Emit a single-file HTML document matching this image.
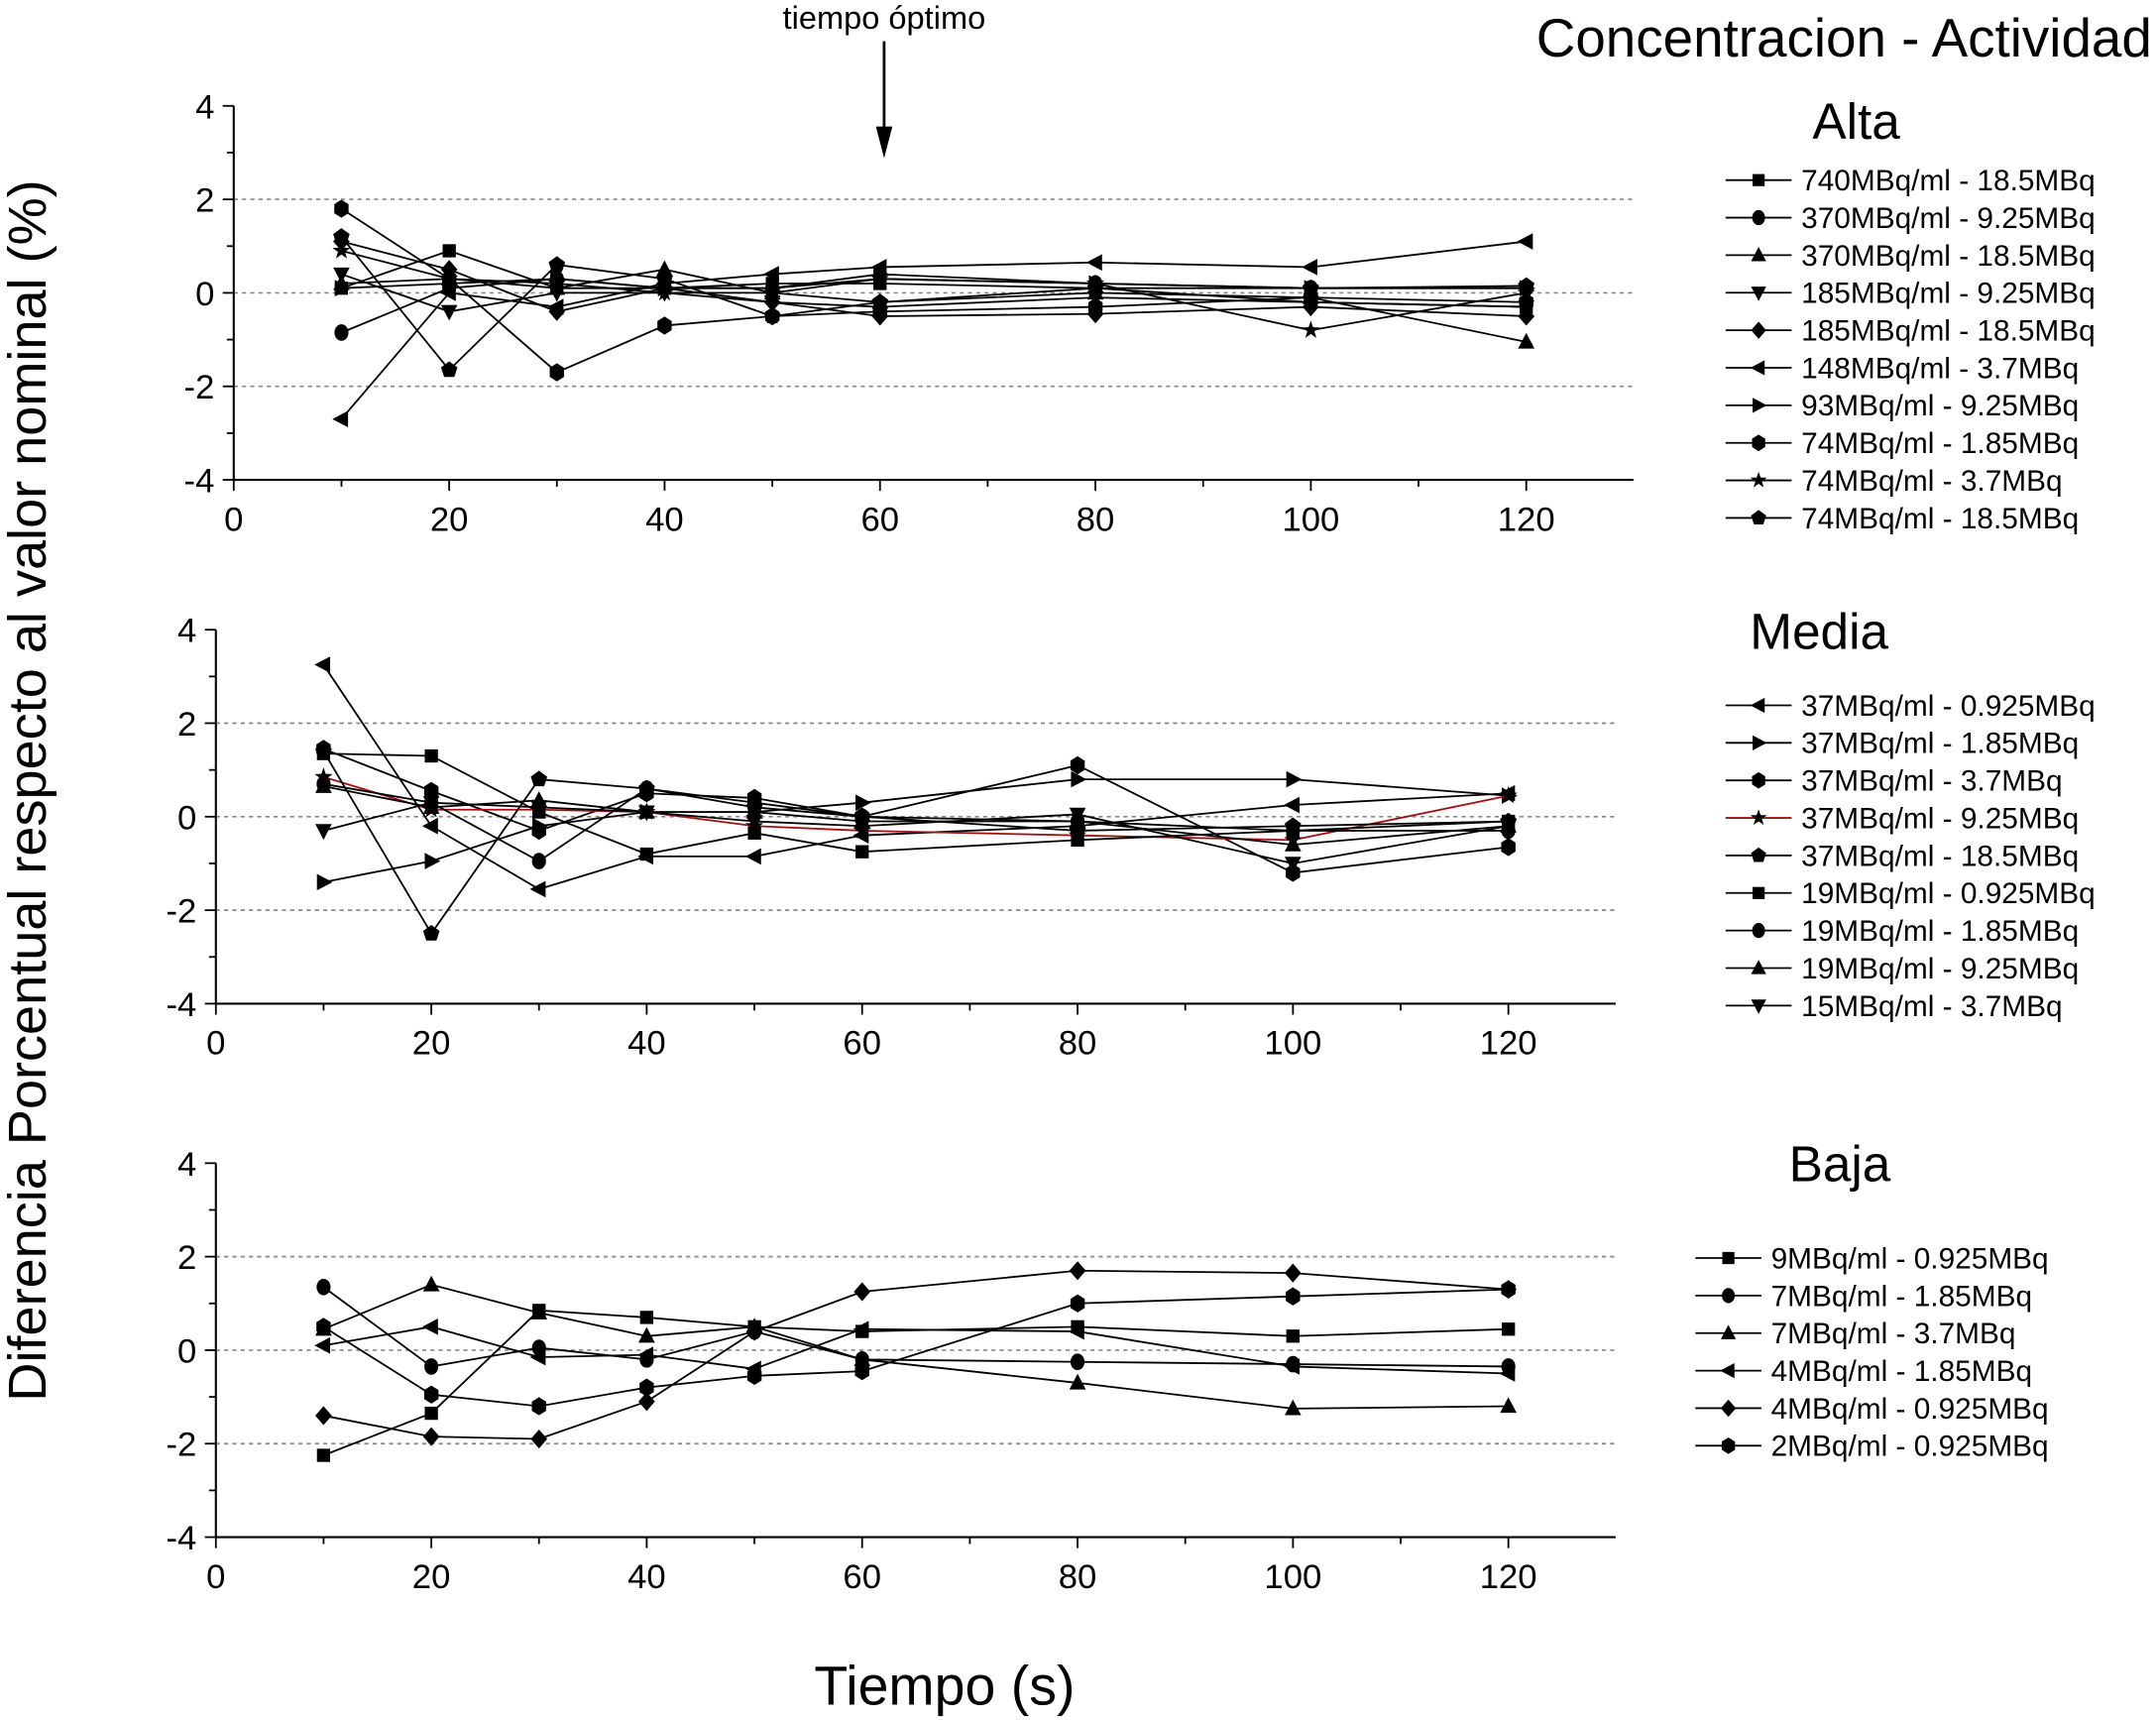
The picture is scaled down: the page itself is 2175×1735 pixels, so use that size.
<!DOCTYPE html>
<html><head><meta charset="utf-8"><style>
html,body{margin:0;padding:0;background:#fff}
svg{display:block}
text{font-family:"Liberation Sans",sans-serif;fill:#000}
</style></head><body>
<svg id="chart" width="2175" height="1735" viewBox="0 0 1568 1251" preserveAspectRatio="none" xmlns="http://www.w3.org/2000/svg">
<text x="1565" y="41" font-size="39.5" text-anchor="end">Concentracion - Actividad</text>
<text x="643" y="21" font-size="23.5" text-anchor="middle">tiempo óptimo</text>
<line x1="643" y1="30" x2="643" y2="100" stroke="#000" stroke-width="2"/>
<polygon points="637,92 649,92 643,115" fill="#000"/>
<text transform="translate(33,575) rotate(-90)" font-size="39" text-anchor="middle">Diferencia Porcentual respecto al valor nominal (%)</text>
<text x="687" y="1240" font-size="40" text-anchor="middle">Tiempo (s)</text>
<g id="plots"></g>
</svg>
<script>
const times = [10,20,30,40,50,60,80,100,120];
const yTicks = [-4,-2,0,2,4];
const xTicks = [0,20,40,60,80,100,120];

const altaNames = ["740MBq/ml - 18.5MBq","370MBq/ml - 9.25MBq","370MBq/ml - 18.5MBq","185MBq/ml - 9.25MBq","185MBq/ml - 18.5MBq","148MBq/ml - 3.7MBq","93MBq/ml - 9.25MBq","74MBq/ml - 1.85MBq","74MBq/ml - 3.7MBq","74MBq/ml - 18.5MBq"];
const altaMarkers = ["square","circle","tri","tridown","diamond","trileft","triright","hexagon","star","pentagon"];
const altaValues = [
 [0.1,0.9,0.1,0.1,0.2,0.2,0.1,-0.2,-0.3],
 [-0.85,0.1,0.3,0.1,0.1,0.3,0.2,0.1,0.1],
 [0.2,0.3,0.1,0.5,0,-0.2,0,-0.1,-1.05],
 [0.4,-0.4,0,0,-0.2,-0.3,-0.1,-0.2,-0.3],
 [1.1,0.5,-0.4,0.1,-0.2,-0.5,-0.45,-0.3,-0.5],
 [-2.7,0,-0.3,0.2,0.4,0.55,0.65,0.55,1.1],
 [0.1,0.2,0.3,0.1,0.1,0.4,0.2,0.1,0.1],
 [1.8,0.3,-1.7,-0.7,-0.5,-0.4,-0.3,-0.1,-0.2],
 [0.9,0.3,0.2,0,0,0.3,0.2,-0.8,0],
 [1.2,-1.65,0.6,0.3,-0.5,-0.2,0.1,0.1,0.15]
];
const mediaNames = ["37MBq/ml - 0.925MBq","37MBq/ml - 1.85MBq","37MBq/ml - 3.7MBq","37MBq/ml - 9.25MBq","37MBq/ml - 18.5MBq","19MBq/ml - 0.925MBq","19MBq/ml - 1.85MBq","19MBq/ml - 9.25MBq","15MBq/ml - 3.7MBq"];
const mediaMarkers = ["trileft","triright","hexagon","star","pentagon","square","circle","tri","tridown"];
const mediaColors = ["#000","#000","#000","#a01010","#000","#000","#000","#000","#000"];
const mediaValues = [
 [3.25,-0.2,-1.55,-0.85,-0.85,-0.4,-0.2,0.25,0.5],
 [-1.4,-0.95,-0.2,0.1,0.1,0.3,0.8,0.8,0.45],
 [1.45,0.55,-0.3,0.5,0.4,0,1.1,-1.2,-0.65],
 [0.85,0.15,0.15,0.1,-0.2,-0.3,-0.4,-0.5,0.45],
 [1.4,-2.5,0.8,0.6,0.2,0,-0.3,-0.2,-0.1],
 [1.35,1.3,0.1,-0.8,-0.35,-0.75,-0.5,-0.3,-0.1],
 [0.7,0.3,-0.95,0.6,0.3,0,-0.1,-0.3,-0.3],
 [0.65,0.2,0.35,0.1,0.1,-0.1,-0.1,-0.6,-0.2],
 [-0.3,0.3,0.2,0.1,-0.1,-0.2,0.05,-1.0,-0.2]
];
const bajaNames = ["9MBq/ml - 0.925MBq","7MBq/ml - 1.85MBq","7MBq/ml - 3.7MBq","4MBq/ml - 1.85MBq","4MBq/ml - 0.925MBq","2MBq/ml - 0.925MBq"];
const bajaMarkers = ["square","circle","tri","trileft","diamond","hexagon"];
const bajaValues = [
 [-2.25,-1.35,0.85,0.7,0.5,0.4,0.5,0.3,0.45],
 [1.35,-0.35,0.05,-0.2,0.4,-0.2,-0.25,-0.3,-0.35],
 [0.45,1.4,0.8,0.3,0.5,-0.2,-0.7,-1.25,-1.2],
 [0.1,0.5,-0.15,-0.1,-0.4,0.45,0.4,-0.35,-0.5],
 [-1.4,-1.85,-1.9,-1.1,0.4,1.25,1.7,1.65,1.3],
 [0.5,-0.95,-1.2,-0.8,-0.55,-0.45,1.0,1.15,1.3]
];

const NS="http://www.w3.org/2000/svg";
const root=document.getElementById('plots');
function mk(tag,attrs,parent){const e=document.createElementNS(NS,tag);for(const k in attrs)e.setAttribute(k,attrs[k]);parent.appendChild(e);return e;}

function marker(type,cx,cy,s,parent){
  let pts=null;
  if(type==="square") pts=[[-1,-1],[1,-1],[1,1],[-1,1]].map(p=>[p[0]*0.8,p[1]*0.8]);
  else if(type==="tri") pts=[[0,-1.1],[1,0.8],[-1,0.8]];
  else if(type==="tridown") pts=[[0,1.1],[1,-0.8],[-1,-0.8]];
  else if(type==="trileft") pts=[[-1.1,0],[0.8,-1],[0.8,1]];
  else if(type==="triright") pts=[[1.1,0],[-0.8,-1],[-0.8,1]];
  else if(type==="diamond") pts=[[0,-1.15],[1,0],[0,1.15],[-1,0]];
  else if(type==="hexagon"){pts=[];for(let i=0;i<6;i++){const a=Math.PI/3*i+Math.PI/6;pts.push([Math.cos(a),Math.sin(a)*1.1]);}}
  else if(type==="pentagon"){pts=[];for(let i=0;i<5;i++){const a=-Math.PI/2+2*Math.PI/5*i;pts.push([Math.cos(a)*1.05,Math.sin(a)*1.05]);}}
  else if(type==="star"){pts=[];for(let i=0;i<10;i++){const a=-Math.PI/2+Math.PI/5*i;const r=i%2?0.45:1.15;pts.push([Math.cos(a)*r,Math.sin(a)*r]);}}
  let el;
  if(type==="circle") el=mk('ellipse',{cx:cx,cy:cy,rx:s*0.85,ry:s,fill:'#000'},parent);
  else el=mk('polygon',{points:pts.map(p=>(cx+p[0]*s).toFixed(1)+','+(cy+p[1]*s).toFixed(1)).join(' '),fill:'#000'},parent);
  return el;
}

function panel(cfg){
  const g=mk('g',{},root);
  
  
  const xs=v=>cfg.x0+(v)*(cfg.x120-cfg.x0)/120;
  const ys=v=>cfg.y0-v*(cfg.y0-cfg.y4)/4;
  [-2,0,2].forEach(v=>{const l=mk('line',{x1:cfg.x0,x2:cfg.xEnd,y1:ys(v),y2:ys(v),stroke:'#888','stroke-width':1.2,'stroke-dasharray':'3,3'},g);
    });
  const ya=mk('line',{x1:cfg.x0,x2:cfg.x0,y1:ys(4),y2:ys(-4),stroke:'#000','stroke-width':1.5},g);
  
  const xa=mk('line',{x1:cfg.x0,x2:cfg.xEnd,y1:ys(-4),y2:ys(-4),stroke:'#000','stroke-width':1.5},g);
  
  for(let v=-4;v<=4;v++){mk('line',{x1:cfg.x0-(v%2===0?8:5),x2:cfg.x0,y1:ys(v),y2:ys(v),stroke:'#000','stroke-width':1.3},g);}
  yTicks.forEach(v=>{const t=mk('text',{x:cfg.x0-14,y:ys(v)+9,'font-size':25,'text-anchor':'end'},g);t.textContent=v;
    });
  for(let v=0;v<=130;v+=10){const x=xs(v);if(x>cfg.xEnd)break;mk('line',{x1:x,x2:x,y1:ys(-4),y2:ys(-4)+(v%20===0?8:5),stroke:'#000','stroke-width':1.3},g);}
  xTicks.forEach(v=>{const t=mk('text',{x:xs(v),y:ys(-4)+37,'font-size':25,'text-anchor':'middle'},g);t.textContent=v;
    });
  const tt=mk('text',{x:cfg.tx,y:cfg.ty,'font-size':37,'text-anchor':'middle'},g);tt.textContent=cfg.title;
  
  cfg.values.forEach((vals,i)=>{
    const col=cfg.colors?cfg.colors[i]:'#000';
    const s=mk('g',{},g);
    
    
    mk('polyline',{points:vals.map((v,j)=>xs(times[j]).toFixed(1)+','+ys(v).toFixed(1)).join(' '),fill:'none',stroke:col,'stroke-width':1.3},s);
    vals.forEach((v,j)=>{const m=marker(cfg.markers[i],xs(times[j]),ys(v),6,s);
      });
  });
  const lg=mk('g',{},g);
  
  cfg.names.forEach((n,i)=>{
    const y=cfg.ly+i*27.3;
    const e=mk('g',{},lg);
    
    mk('line',{x1:cfg.lx,x2:cfg.lx+48,y1:y,y2:y,stroke:cfg.colors?cfg.colors[i]:'#000','stroke-width':1.3},e);
    marker(cfg.markers[i],cfg.lx+24,y,5.5,e);
    const t=mk('text',{x:cfg.lx+55,y:y+7.5,'font-size':21.5},e);t.textContent=n;
  });
}
panel({name:'alta',title:'Alta',tx:1350,ty:101,x0:170,x120:1110,xEnd:1188,y4:77,y0:213,values:altaValues,names:altaNames,markers:altaMarkers,lx:1255,ly:131});
panel({name:'media',title:'Media',tx:1323,ty:472,x0:157,x120:1097,xEnd:1175,y4:458,y0:594,values:mediaValues,names:mediaNames,markers:mediaMarkers,colors:mediaColors,lx:1255,ly:513});
panel({name:'baja',title:'Baja',tx:1338,ty:859,x0:157,x120:1097,xEnd:1175,y4:846,y0:982,values:bajaValues,names:bajaNames,markers:bajaMarkers,lx:1233,ly:915});
</script>
</body></html>
